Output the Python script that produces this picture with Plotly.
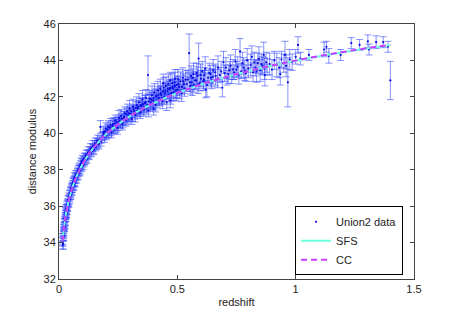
import plotly.graph_objects as go

# ---- Union2 data ----
z_data = [
    0.015, 0.016, 0.017, 0.018, 0.019, 0.020, 0.021, 0.022, 0.023, 0.024,
    0.025, 0.026, 0.027, 0.028, 0.029, 0.030, 0.031, 0.032, 0.033, 0.034,
    0.035, 0.036, 0.038, 0.040, 0.041, 0.043, 0.045, 0.047, 0.049, 0.050,
    0.052, 0.054, 0.056, 0.058, 0.060, 0.062, 0.064, 0.066, 0.068, 0.070,
    0.073, 0.076, 0.079, 0.082, 0.085, 0.088, 0.091, 0.094, 0.097, 0.100,
    0.104, 0.108, 0.112, 0.116, 0.120, 0.125, 0.130, 0.135, 0.140, 0.145,
    0.150, 0.155, 0.160, 0.166, 0.172, 0.175, 0.178,
    0.185, 0.190, 0.195, 0.200, 0.205, 0.210, 0.215, 0.220, 0.225, 0.230,
    0.235, 0.240, 0.245, 0.250, 0.255, 0.260, 0.265, 0.270, 0.275, 0.280,
    0.285, 0.290, 0.295, 0.300, 0.305, 0.310, 0.315, 0.320, 0.325, 0.330,
    0.335, 0.340, 0.345, 0.350, 0.355, 0.360, 0.365, 0.370, 0.376, 0.380,
    0.385, 0.390, 0.395, 0.400, 0.400, 0.405, 0.410, 0.415, 0.420, 0.425,
    0.430, 0.435, 0.440, 0.440, 0.445, 0.450, 0.455, 0.460, 0.465, 0.470,
    0.470, 0.470, 0.475, 0.480, 0.485, 0.490, 0.490, 0.495, 0.500, 0.505,
    0.510,
    0.520, 0.525, 0.530, 0.540, 0.545, 0.550, 0.555, 0.560, 0.565, 0.570,
    0.580, 0.585, 0.590, 0.595, 0.600, 0.610, 0.615, 0.620, 0.630, 0.640,
    0.645, 0.650, 0.660, 0.670, 0.680, 0.690, 0.700, 0.710, 0.720, 0.730,
    0.740,
    0.750, 0.760, 0.765, 0.770, 0.780, 0.790, 0.800, 0.810, 0.815, 0.820,
    0.830, 0.840, 0.850, 0.860, 0.870, 0.875, 0.880, 0.890, 0.900, 0.910,
    0.920, 0.930, 0.940, 0.950, 0.955, 0.960, 0.967, 0.975, 0.985, 1.000,
    1.010, 1.020,
    1.056, 1.120, 1.130, 1.140, 1.190, 1.235, 1.270, 1.305, 1.310, 1.340,
    1.370, 1.390, 1.400,
    # second pass over the dense part of the cloud
    0.0155, 0.0165, 0.0175, 0.0185, 0.0195, 0.0205, 0.0215, 0.0225, 0.0235, 0.0245,
    0.0255, 0.0265, 0.0275, 0.0285, 0.0295, 0.0305, 0.0315, 0.0325, 0.0335, 0.0345,
    0.037, 0.039, 0.042, 0.044, 0.046, 0.048, 0.051, 0.053, 0.055, 0.057,
    0.059, 0.061, 0.063, 0.065, 0.067, 0.069, 0.072, 0.075, 0.078, 0.081,
    0.084, 0.087, 0.090, 0.093, 0.096, 0.099, 0.102, 0.106, 0.110, 0.114,
    0.118, 0.123, 0.128, 0.133, 0.138, 0.143, 0.148, 0.153, 0.158, 0.163,
    0.169, 0.181, 0.188,
    0.192, 0.198, 0.203, 0.208, 0.213, 0.218, 0.222, 0.228, 0.233, 0.238,
    0.243, 0.248, 0.253, 0.258, 0.262, 0.268, 0.273, 0.278, 0.283, 0.288,
    0.293, 0.298, 0.303, 0.308, 0.313, 0.318, 0.323, 0.328, 0.333, 0.338,
    0.343, 0.348, 0.353, 0.358, 0.363, 0.368, 0.373, 0.378, 0.383, 0.388,
    0.393, 0.398, 0.403, 0.408, 0.412, 0.418, 0.422, 0.428, 0.432, 0.438,
    0.443, 0.448, 0.452, 0.458, 0.462, 0.468, 0.473, 0.478, 0.483, 0.488,
    0.493, 0.498, 0.503, 0.508, 0.513, 0.518, 0.523, 0.528, 0.535,
    0.552, 0.558, 0.563, 0.568, 0.575, 0.582, 0.588, 0.598, 0.605, 0.612,
    0.618, 0.625, 0.635, 0.642, 0.652, 0.662, 0.672, 0.685, 0.695, 0.705,
    0.715, 0.725, 0.735, 0.745, 0.755, 0.775, 0.785, 0.795,
    0.825, 0.835, 0.845, 0.855, 0.865, 0.868, 0.935,
]
mu_data = [
    34.05, 33.85, 34.30, 34.45, 34.60, 34.55, 34.90, 34.80, 35.10, 34.95,
    35.30, 35.20, 35.45, 35.55, 35.40, 35.70, 35.60, 35.85, 35.75, 35.95,
    36.10, 35.90, 36.20, 36.35, 36.15, 36.50, 36.45, 36.70, 36.60, 36.85,
    36.95, 36.80, 37.10, 37.20, 37.05, 37.35, 37.45, 37.30, 37.60, 37.50,
    37.75, 37.65, 37.90, 38.00, 37.85, 38.15, 38.25, 38.10, 38.40, 38.35,
    38.50, 38.45, 38.70, 38.65, 38.85, 38.80, 39.05, 38.95, 39.20, 39.15,
    39.35, 39.25, 39.50, 39.45, 39.65, 40.35, 39.55,
    39.85, 39.95, 40.10, 39.90, 40.20, 40.05, 40.30, 40.15, 40.40, 40.25,
    40.55, 40.35, 40.60, 40.45, 40.70, 40.55, 40.80, 40.65, 40.90, 40.75,
    41.05, 40.85, 41.10, 40.95, 41.20, 41.00, 41.30, 41.10, 41.40, 41.20,
    41.45, 41.25, 41.55, 41.35, 41.60, 41.45, 41.70, 41.40, 43.20, 41.75,
    41.55, 41.85, 41.60, 41.95, 41.35, 41.70, 42.05, 41.80, 42.10, 41.85,
    42.20, 41.95, 42.30, 42.75, 42.00, 42.35, 41.70, 42.45, 42.10, 42.50,
    42.90, 41.80, 42.20, 42.55, 42.25, 42.60, 43.00, 42.15, 42.40, 42.70,
    42.30,
    42.55, 42.85, 42.45, 42.70, 42.95, 44.40, 42.60, 42.80, 43.05, 42.65,
    42.90, 43.15, 44.10, 42.75, 43.00, 42.85, 43.20, 42.40, 43.05, 43.25,
    42.90, 43.10, 43.35, 43.00, 43.20, 42.50, 43.30, 43.05, 43.45, 43.15,
    43.35,
    43.50, 43.20, 44.50, 43.40, 43.60, 43.30, 43.55, 43.75, 44.20, 43.35,
    43.60, 43.85, 43.45, 43.70, 43.20, 43.90, 43.65, 43.80, 43.50, 44.00,
    43.75, 43.60, 44.05, 43.85, 44.30, 43.70, 42.80, 44.05, 43.90, 44.20,
    44.85, 44.10,
    44.30, 44.60, 44.75, 44.25, 44.30, 44.95, 44.85, 45.05, 44.60, 45.00,
    45.00, 44.75, 42.90,
    34.20, 34.10, 33.95, 34.35, 34.75, 34.40, 34.65, 35.00, 34.85, 35.15,
    35.05, 35.40, 35.25, 35.65, 35.50, 35.80, 35.55, 35.70, 36.00, 35.80,
    36.05, 36.30, 36.25, 36.60, 36.40, 36.75, 36.70, 37.00, 36.90, 37.00,
    37.30, 37.20, 37.15, 37.55, 37.40, 37.35, 37.70, 37.55, 37.80, 37.75,
    38.05, 37.95, 38.00, 38.35, 38.20, 38.50, 38.25, 38.60, 38.55, 38.80,
    38.60, 38.95, 38.85, 39.15, 39.00, 39.30, 39.10, 39.45, 39.35, 39.60,
    39.40, 39.75, 40.05,
    39.80, 40.25, 40.00, 40.35, 40.15, 40.45, 40.05, 40.50, 40.35, 40.70,
    40.45, 40.30, 40.85, 40.60, 40.95, 40.50, 40.80, 41.10, 40.70, 41.20,
    40.95, 41.35, 41.05, 40.80, 41.45, 41.20, 41.00, 41.55, 41.35, 41.70,
    41.15, 41.50, 41.85, 41.30, 41.65, 41.95, 41.55, 41.25, 41.90, 41.70,
    42.10, 41.80, 42.25, 41.55, 42.00, 42.35, 41.95, 42.45, 42.10, 41.75,
    42.50, 42.20, 42.60, 42.30, 42.70, 42.40, 42.05, 42.75, 42.45, 42.80,
    42.35, 42.65, 42.95, 42.55, 42.85, 42.20, 43.05, 42.70, 42.95,
    42.80, 43.15, 42.55, 43.25, 42.90, 43.30, 42.70, 43.20, 43.40, 42.95,
    43.55, 42.65, 43.30, 43.05, 43.45, 43.15, 43.60, 43.40, 43.90, 43.60,
    43.25, 43.70, 43.50, 43.95, 43.65, 43.85, 43.45, 44.00,
    43.90, 43.40, 44.10, 43.80, 44.30, 43.55, 43.25,
]
err_data = [
    0.25, 0.22, 0.20, 0.24, 0.22, 0.25, 0.20, 0.22, 0.23, 0.20,
    0.22, 0.24, 0.20, 0.22, 0.25, 0.20, 0.22, 0.24, 0.20, 0.22,
    0.24, 0.20, 0.22, 0.24, 0.20, 0.22, 0.22, 0.20, 0.24, 0.22,
    0.20, 0.24, 0.22, 0.20, 0.22, 0.24, 0.20, 0.22, 0.22, 0.24,
    0.20, 0.22, 0.24, 0.22, 0.20, 0.22, 0.24, 0.22, 0.20, 0.24,
    0.22, 0.25, 0.22, 0.24, 0.22, 0.25, 0.22, 0.24, 0.22, 0.25,
    0.24, 0.22, 0.25, 0.24, 0.22, 0.35, 0.25,
    0.25, 0.28, 0.30, 0.26, 0.30, 0.28, 0.32, 0.26, 0.30, 0.28,
    0.32, 0.30, 0.28, 0.30, 0.32, 0.28, 0.30, 0.35, 0.30, 0.28,
    0.32, 0.30, 0.34, 0.30, 0.32, 0.35, 0.30, 0.33, 0.36, 0.30,
    0.35, 0.32, 0.38, 0.33, 0.36, 0.30, 0.40, 0.35, 1.05, 0.38,
    0.35, 0.40, 0.33, 0.38, 0.35, 0.42, 0.36, 0.40, 0.45, 0.35,
    0.42, 0.38, 0.45, 0.50, 0.40, 0.42, 0.45, 0.40, 0.38, 0.45,
    0.45, 0.40, 0.42, 0.40, 0.45, 0.42, 0.50, 0.38, 0.45, 0.42,
    0.40,
    0.40, 0.45, 0.42, 0.40, 0.50, 1.05, 0.45, 0.42, 0.48, 0.40,
    0.45, 0.50, 0.85, 0.42, 0.45, 0.50, 0.40, 0.45, 0.42, 0.48,
    0.45, 0.40, 0.45, 0.50, 0.42, 0.50, 0.45, 0.40, 0.48, 0.42,
    0.40,
    0.45, 0.50, 0.70, 0.40, 0.55, 0.45, 0.50, 0.60, 0.60, 0.50,
    0.45, 0.55, 0.60, 0.50, 0.60, 0.55, 0.45, 0.60, 0.55, 0.50,
    0.65, 0.55, 0.45, 0.50, 0.75, 0.60, 1.35, 0.55, 0.45, 0.40,
    0.45, 0.35,
    0.30, 0.40, 0.30, 0.40, 0.30, 0.30, 0.30, 0.35, 0.30, 0.35,
    0.30, 0.30, 1.05,
    0.28, 0.25, 0.30, 0.26, 0.24, 0.28, 0.25, 0.30, 0.24, 0.26,
    0.28, 0.24, 0.30, 0.26, 0.25, 0.28, 0.24, 0.30, 0.26, 0.25,
    0.28, 0.26, 0.30, 0.25, 0.28, 0.26, 0.30, 0.25, 0.28, 0.26,
    0.25, 0.30, 0.26, 0.28, 0.25, 0.30, 0.26, 0.28, 0.25, 0.30,
    0.26, 0.28, 0.25, 0.30, 0.26, 0.28, 0.25, 0.30, 0.26, 0.28,
    0.25, 0.30, 0.26, 0.28, 0.25, 0.30, 0.26, 0.28, 0.25, 0.30,
    0.26, 0.28, 0.30,
    0.30, 0.32, 0.28, 0.34, 0.30, 0.36, 0.30, 0.33, 0.38, 0.30,
    0.32, 0.35, 0.40, 0.30, 0.36, 0.32, 0.38, 0.35, 0.30, 0.40,
    0.33, 0.45, 0.36, 0.32, 0.42, 0.35, 0.38, 0.45, 0.36, 0.48,
    0.34, 0.40, 0.50, 0.36, 0.42, 0.45, 0.38, 0.35, 0.46, 0.40,
    0.50, 0.42, 0.48, 0.38, 0.44, 0.50, 0.40, 0.52, 0.45, 0.40,
    0.55, 0.45, 0.50, 0.42, 0.55, 0.48, 0.45, 0.52, 0.48, 0.55,
    0.45, 0.50, 0.55, 0.48, 0.52, 0.45, 0.55, 0.50, 0.52,
    0.50, 0.55, 0.48, 0.60, 0.50, 0.55, 0.52, 0.60, 0.55, 0.50,
    0.65, 0.65, 0.55, 0.50, 0.60, 0.55, 0.65, 0.55, 0.60, 0.55,
    0.50, 0.60, 0.55, 0.65, 0.55, 0.60, 0.55, 0.65,
    0.55, 0.60, 0.65, 0.55, 0.70, 0.60, 0.60,
]

# ---- model curves ----
z_model = [0.015, 0.02, 0.025, 0.03, 0.04, 0.05, 0.06, 0.075, 0.1, 0.125,
           0.15, 0.2, 0.25, 0.3, 0.35, 0.4, 0.45, 0.5, 0.6, 0.7,
           0.8, 0.9, 1.0, 1.1, 1.2, 1.3, 1.4]
mu_sfs = [34.06, 34.70, 35.19, 35.60, 36.24, 36.74, 37.15, 37.66, 38.31, 38.84,
          39.27, 39.96, 40.49, 40.94, 41.32, 41.65, 41.95, 42.21, 42.68, 43.07,
          43.41, 43.71, 43.98, 44.23, 44.45, 44.65, 44.84]
mu_cc = [34.06, 34.70, 35.19, 35.60, 36.24, 36.74, 37.15, 37.66, 38.31, 38.84,
         39.27, 39.96, 40.49, 40.94, 41.32, 41.65, 41.95, 42.21, 42.68, 43.07,
         43.41, 43.72, 43.99, 44.24, 44.46, 44.67, 44.86]

x_ticks = [0, 0.5, 1, 1.5]
x_tick_text = ["0", "0.5", "1", "1.5"]
y_ticks = [32, 34, 36, 38, 40, 42, 44, 46]

FONT = "Liberation Sans, Arial, Helvetica, sans-serif"

fig = go.Figure()
fig.add_trace(go.Scatter(
    x=z_data, y=mu_data, mode="markers", name="Union2 data",
    marker=dict(size=2.2, color="rgb(10,10,220)"),
    error_y=dict(type="data", array=err_data, color="rgba(40,60,255,0.55)",
                 thickness=1, width=3.5),
))
fig.add_trace(go.Scatter(
    x=z_model, y=mu_sfs, mode="lines", name="SFS", line_shape="spline",
    line=dict(color="rgb(110,255,225)", width=2),
))
fig.add_trace(go.Scatter(
    x=z_model, y=mu_cc, mode="lines", name="CC", line_shape="spline",
    line=dict(color="rgb(200,60,255)", width=2, dash="6px,4px"),
))

axis_common = dict(
    showline=True, linecolor="#444", linewidth=1, mirror="ticks",
    ticks="inside", ticklen=4, tickcolor="#444", showgrid=False,
    zeroline=False, tickfont=dict(family=FONT, size=11, color="#222"),
)
fig.update_xaxes(range=[0, 1.5], tickvals=x_ticks, ticktext=x_tick_text,
                 title=dict(text="redshift", font=dict(family=FONT, size=11, color="#222"), standoff=4),
                 **axis_common)
fig.update_yaxes(range=[32, 46], tickvals=y_ticks,
                 title=dict(text="distance modulus", font=dict(family=FONT, size=11, color="#222"), standoff=4),
                 **axis_common)

# the page body adds an 8px margin, so the figure is 8px smaller than the window
fig.update_layout(
    width=450, height=307,
    margin=dict(l=51, r=44, t=16, b=36, autoexpand=False),
    paper_bgcolor="white", plot_bgcolor="white",
    font=dict(family=FONT, size=11, color="#222"),
    legend=dict(x=0.665, y=0.285, xanchor="left", yanchor="top",
                bgcolor="white", bordercolor="black", borderwidth=1,
                font=dict(family=FONT, size=11, color="#222"),
                tracegroupgap=0, itemwidth=30),
    showlegend=True,
)

fig.write_html("out.html")
